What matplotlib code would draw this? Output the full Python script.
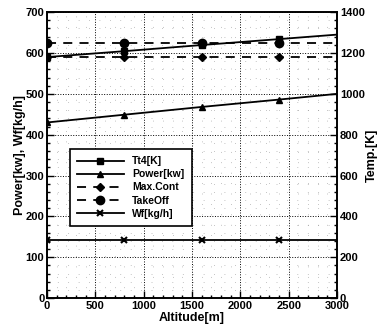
import matplotlib
matplotlib.use("Agg")
import matplotlib.pyplot as plt
import numpy as np
from matplotlib.ticker import MultipleLocator

plt.rcParams['font.family'] = ['Liberation Sans', 'DejaVu Sans']

# data
altitude = [0, 800, 1600, 2400, 3000]
tt4 = [1180, 1209, 1239, 1268, 1290]        # Temp [K], right axis
power = [430, 449, 468, 486, 500]           # kw, left axis
max_cont = [1180, 1180, 1180, 1180, 1180]   # K, right axis
takeoff = [1250, 1250, 1250, 1250, 1250]    # K, right axis
wf = [143, 143, 143, 143, 143]              # kg/h, left axis
mark = [0, 1, 2, 3]

fig = plt.figure(figsize=(3.77, 3.28), dpi=100)
ax = fig.add_axes([0.125, 0.091, 0.769, 0.872])
ax2 = ax.twinx()

ax.plot(altitude, power, 'k-', lw=1.3, marker='^', ms=4, markevery=mark, label='Power[kw]')
ax.plot(altitude, wf, 'k-', lw=1.3, marker='x', ms=5, mew=1.5, markevery=mark, label='Wf[kg/h]')
ax2.plot(altitude, tt4, 'k-', lw=1.3, marker='s', ms=5, markevery=mark, label='Tt4[K]')
ax2.plot(altitude, max_cont, 'k--', lw=1.3, dashes=(5, 4), marker='D', ms=4, markevery=mark, label='Max.Cont')
ax2.plot(altitude, takeoff, 'k--', lw=1.3, dashes=(5, 4), marker='o', ms=6, markevery=mark, label='TakeOff')

ax.set_xlim(0, 3000)
ax.set_ylim(0, 700)
ax2.set_ylim(0, 1400)

ax.xaxis.set_major_locator(MultipleLocator(500))
ax.xaxis.set_minor_locator(MultipleLocator(100))
ax.yaxis.set_major_locator(MultipleLocator(100))
ax.yaxis.set_minor_locator(MultipleLocator(20))
ax2.yaxis.set_major_locator(MultipleLocator(200))
ax2.yaxis.set_minor_locator(MultipleLocator(40))

ax.grid(True, which='major', color='k', ls=':', lw=0.7)
ax.grid(True, which='minor', color='0.55', ls=(0, (1, 14)), lw=0.5)

for a in (ax, ax2):
    a.tick_params(which='both', direction='in', labelsize=8, width=1, pad=2)
    a.tick_params(which='major', length=5)
    a.tick_params(which='minor', length=2.5)
    for s in a.spines.values():
        s.set_linewidth(1.2)
ax.tick_params(axis='y', right=False)
for lbl in ax.get_xticklabels() + ax.get_yticklabels() + ax2.get_yticklabels():
    lbl.set_fontweight('bold')

ax.set_xlabel('Altitude[m]', fontsize=9, fontweight='bold', labelpad=1)
ax.set_ylabel('Power[kw], Wf[kg/h]', fontsize=9, fontweight='bold', labelpad=0)
ax2.set_ylabel('Temp.[K]', fontsize=9, fontweight='bold', labelpad=1)

h1, l1 = ax.get_legend_handles_labels()
h2, l2 = ax2.get_legend_handles_labels()
handles = {**dict(zip(l1, h1)), **dict(zip(l2, h2))}
order = ['Tt4[K]', 'Power[kw]', 'Max.Cont', 'TakeOff', 'Wf[kg/h]']
leg = ax2.legend([handles[k] for k in order], order, loc='upper left',
                 bbox_to_anchor=(0.06, 0.54), fontsize=7.5, frameon=True,
                 fancybox=False, edgecolor='k', framealpha=1, handlelength=4.5,
                 labelspacing=0.3, borderpad=0.7)
leg.get_frame().set_linewidth(1.2)
for t in leg.get_texts():
    t.set_fontweight('bold')

fig.savefig('out.png', dpi=100)
